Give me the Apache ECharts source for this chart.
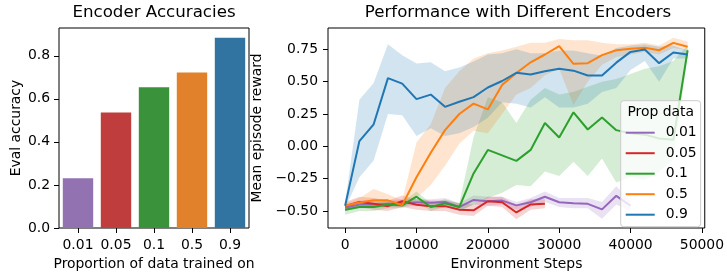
<!DOCTYPE html>
<html><head><meta charset="utf-8">
<script src="https://cdn.jsdelivr.net/npm/echarts@6/dist/echarts.min.js"></script>
<style>html,body{margin:0;padding:0;background:#fff}#c{width:727px;height:276px}</style>
</head><body><div id="c"></div>
<script>
// ---------- Left chart: encoder accuracies ----------
const barCategories = ['0.01', '0.05', '0.1', '0.5', '0.9'];
const barValues = [0.231, 0.537, 0.654, 0.722, 0.884];
const barColors = ['#9372b2', '#c03d3e', '#3a923a', '#e1812c', '#3274a1'];
const leftYTicks = [0.0, 0.2, 0.4, 0.6, 0.8];

// ---------- Right chart: performance ----------
const rightXTicks = [0, 10000, 20000, 30000, 40000, 50000];
const rightYTicks = [-0.5, -0.25, 0, 0.25, 0.5, 0.75];
const steps = [0, 2000, 4000, 6000, 8000, 10000, 12000, 14000, 16000, 18000, 20000, 22000, 24000,
  26000, 28000, 30000, 32000, 34000, 36000, 38000, 40000, 42000, 44000, 46000, 48000];
const seriesNames = ['0.01', '0.05', '0.1', '0.5', '0.9'];
const lineColors = ['#9467bd', '#d62728', '#2ca02c', '#ff7f0e', '#1f77b4'];

const mean001 = [-0.475, -0.45, -0.45, -0.445, -0.44, -0.433, -0.437, -0.43, -0.47, -0.415, -0.425, -0.42, -0.457, -0.433, -0.39, -0.433, -0.44, -0.445, -0.488, -0.383, -0.46];
const low001 = [-0.50, -0.48, -0.48, -0.47, -0.47, -0.46, -0.47, -0.46, -0.50, -0.45, -0.46, -0.45, -0.49, -0.47, -0.43, -0.47, -0.48, -0.48, -0.56, -0.45, -0.50];
const high001 = [-0.45, -0.42, -0.42, -0.42, -0.41, -0.41, -0.41, -0.40, -0.44, -0.38, -0.39, -0.39, -0.43, -0.40, -0.35, -0.40, -0.40, -0.40, -0.43, -0.31, -0.42];

const mean005 = [-0.463, -0.43, -0.445, -0.463, -0.425, -0.452, -0.463, -0.463, -0.49, -0.495, -0.425, -0.433, -0.512, -0.45, -0.445];
const low005 = [-0.50, -0.47, -0.49, -0.50, -0.47, -0.49, -0.50, -0.50, -0.53, -0.54, -0.46, -0.47, -0.565, -0.49, -0.48];
const high005 = [-0.43, -0.39, -0.40, -0.42, -0.38, -0.41, -0.42, -0.42, -0.44, -0.45, -0.39, -0.39, -0.46, -0.41, -0.41];

const mean01 = [-0.49, -0.47, -0.47, -0.45, -0.457, -0.39, -0.47, -0.44, -0.47, -0.21, -0.028, -0.07, -0.113, -0.028, 0.18, 0.068, 0.263, 0.13, 0.223, 0.125, 0.10, 0.09, 0.06, 0.05, 0.743];
const low01 = [-0.53, -0.50, -0.50, -0.48, -0.48, -0.42, -0.50, -0.47, -0.50, -0.45, -0.40, -0.36, -0.30, -0.31, -0.195, -0.23, -0.12, -0.23, -0.095, -0.28, -0.24, -0.26, -0.20, -0.10, 0.70];
const high01 = [-0.46, -0.44, -0.44, -0.42, -0.43, -0.35, -0.44, -0.41, -0.44, 0.07, 0.38, 0.34, 0.18, 0.36, 0.45, 0.40, 0.42, 0.46, 0.50, 0.52, 0.56, 0.60, 0.62, 0.66, 0.78];

const mean05 = [-0.46, -0.435, -0.418, -0.418, -0.455, -0.24, -0.05, 0.125, 0.25, 0.33, 0.285, 0.475, 0.567, 0.65, 0.71, 0.775, 0.638, 0.643, 0.705, 0.743, 0.755, 0.763, 0.743, 0.80, 0.77];
const low05 = [-0.48, -0.47, -0.47, -0.46, -0.47, -0.40, -0.30, -0.15, 0.02, 0.12, 0.10, 0.25, 0.40, 0.45, 0.55, 0.60, 0.32, 0.50, 0.63, 0.69, 0.71, 0.73, 0.71, 0.76, 0.74];
const high05 = [-0.44, -0.40, -0.33, -0.37, -0.42, 0.03, 0.17, 0.45, 0.58, 0.68, 0.72, 0.74, 0.77, 0.80, 0.80, 0.83, 0.82, 0.82, 0.80, 0.79, 0.79, 0.80, 0.78, 0.84, 0.81];

const mean09 = [-0.46, 0.04, 0.17, 0.527, 0.485, 0.365, 0.40, 0.305, 0.345, 0.38, 0.455, 0.505, 0.568, 0.555, 0.58, 0.60, 0.585, 0.548, 0.548, 0.647, 0.73, 0.748, 0.643, 0.725, 0.71];
const low09 = [-0.48, -0.24, -0.11, 0.25, 0.24, 0.08, 0.14, 0.08, 0.10, 0.15, 0.22, 0.34, 0.33, 0.30, 0.38, 0.30, 0.30, 0.33, 0.42, 0.45, 0.59, 0.66, 0.50, 0.68, 0.68];
const high09 = [-0.44, 0.36, 0.49, 0.79, 0.705, 0.64, 0.65, 0.58, 0.61, 0.655, 0.71, 0.72, 0.75, 0.72, 0.72, 0.74, 0.74, 0.72, 0.70, 0.76, 0.78, 0.79, 0.77, 0.78, 0.74];

const means = [mean001, mean005, mean01, mean05, mean09];
const lows = [low001, low005, low01, low05, low09];
const highs = [high001, high005, high01, high05, high09];

const FONT = 'DejaVu Sans';
const TICK = 13.9;

function pairs(ys) { return ys.map((y, i) => [steps[i], y]); }
function hexA(hex, a) {
  const n = parseInt(hex.slice(1), 16);
  return 'rgba(' + (n >> 16) + ',' + ((n >> 8) & 255) + ',' + (n & 255) + ',' + a + ')';
}

const bandSeries = [];
const lineSeries = [];
seriesNames.forEach((name, k) => {
  const lo = lows[k], hi = highs[k];
  const bandData = lo.map((v, i) => [steps[i], v, hi[i]]);
  bandSeries.push({
    type: 'custom', name: 'band' + name, xAxisIndex: 1, yAxisIndex: 1,
    silent: true, z: 1,
    encode: { x: 0, y: [1, 2] },
    data: bandData,
    renderItem: function (params, api) {
      if (params.dataIndex !== 0) return null;
      const top = bandData.map(d => api.coord([d[0], d[2]]));
      const bot = bandData.slice().reverse().map(d => api.coord([d[0], d[1]]));
      return {
        type: 'polygon',
        shape: { points: top.concat(bot) },
        style: { fill: hexA(lineColors[k], 0.2), stroke: null }
      };
    }
  });
  lineSeries.push({
    type: 'line', name: name, xAxisIndex: 1, yAxisIndex: 1,
    symbol: 'none', color: lineColors[k],
    lineStyle: { color: lineColors[k], width: 2 },
    data: pairs(means[k]), z: 3
  });
});

const axisCommon = {
  axisLine: { show: false, onZero: false },
  axisTick: { show: true, inside: false, length: 5, lineStyle: { color: '#000', width: 1 } },
  splitLine: { show: false },
  axisLabel: { color: '#000', fontFamily: FONT, fontSize: TICK, margin: 10 },
  nameTextStyle: { color: '#000', fontFamily: FONT, fontSize: TICK }
};

const chart = echarts.init(document.getElementById('c'), null, { renderer: 'canvas' });
chart.setOption({
  animation: false,
  backgroundColor: '#fff',
  title: [
    { text: 'Encoder Accuracies', left: 154, top: 4, textAlign: 'center', padding: 0,
      textStyle: { fontFamily: FONT, fontSize: 16.67, fontWeight: 'normal', color: '#000' } },
    { text: 'Performance with Different Encoders', left: 518, top: 4, textAlign: 'center', padding: 0,
      textStyle: { fontFamily: FONT, fontSize: 16.67, fontWeight: 'normal', color: '#000' } },
    { text: 'Prop data', left: 660.7, top: 105, textAlign: 'center', padding: 0, z: 10,
      textStyle: { fontFamily: FONT, fontSize: TICK, fontWeight: 'normal', color: '#000', lineHeight: 14 } }
  ],
  grid: [
    { left: 59, top: 28, width: 190, height: 205, show: true, borderColor: '#000', borderWidth: 1, backgroundColor: 'transparent' },
    { left: 328, top: 28, width: 380, height: 205, show: true, borderColor: '#000', borderWidth: 1, backgroundColor: 'transparent' }
  ],
  xAxis: [
    Object.assign({}, axisCommon, {
      type: 'category', gridIndex: 0, data: barCategories,
      axisLabel: Object.assign({}, axisCommon.axisLabel, { interval: 0 }),
      axisTick: { show: true, alignWithLabel: true, interval: 0, length: 5, lineStyle: { color: '#000' } },
      name: 'Proportion of data trained on', nameLocation: 'middle', nameGap: 29
    }),
    Object.assign({}, axisCommon, {
      type: 'value', gridIndex: 1, min: -2400, max: 50400,
      axisLabel: Object.assign({}, axisCommon.axisLabel, { customValues: rightXTicks, formatter: v => String(v) }),
      axisTick: Object.assign({}, axisCommon.axisTick, { customValues: rightXTicks }),
      name: 'Environment Steps', nameLocation: 'middle', nameGap: 29
    })
  ],
  yAxis: [
    Object.assign({}, axisCommon, {
      type: 'value', gridIndex: 0, min: 0, max: 0.929,
      axisLabel: Object.assign({}, axisCommon.axisLabel, { margin: 9, customValues: leftYTicks, formatter: v => v.toFixed(1) }),
      axisTick: Object.assign({}, axisCommon.axisTick, { customValues: leftYTicks }),
      name: 'Eval accuracy', nameLocation: 'middle', nameGap: 36, nameRotate: 90
    }),
    Object.assign({}, axisCommon, {
      type: 'value', gridIndex: 1, min: -0.632, max: 0.915,
      axisLabel: Object.assign({}, axisCommon.axisLabel, {
        customValues: rightYTicks,
        formatter: v => (v < 0 ? '\u2212' : '') + Math.abs(v).toFixed(2)
      }),
      axisTick: Object.assign({}, axisCommon.axisTick, { customValues: rightYTicks }),
      name: 'Mean episode reward', nameLocation: 'middle', nameGap: 54, nameRotate: 90
    })
  ],
  legend: {
    data: seriesNames,
    orient: 'vertical', left: 620.7, top: 100.7,
    padding: [25, 4, 5, 5], itemGap: 6.5,
    itemWidth: 29, itemHeight: 2, icon: 'rect',
    backgroundColor: 'rgba(255,255,255,0.8)', borderColor: '#cccccc', borderWidth: 1, borderRadius: 3,
    textStyle: { fontFamily: FONT, fontSize: TICK, color: '#000', lineHeight: 14, padding: [0, 0, 0, 6] },
    selectedMode: false, z: 8
  },
  series: [
    {
      type: 'bar', xAxisIndex: 0, yAxisIndex: 0, barCategoryGap: '20%',
      data: barValues.map((v, i) => ({ value: v, itemStyle: { color: barColors[i] } }))
    }
  ].concat(bandSeries, lineSeries)
});
</script>
</body></html>
